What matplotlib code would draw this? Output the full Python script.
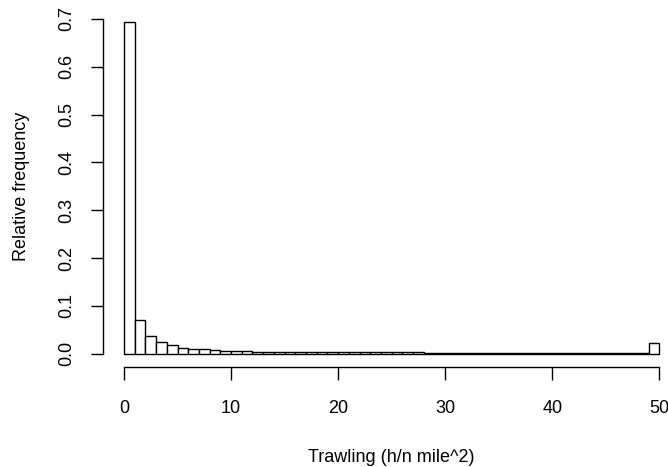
import numpy as np
import matplotlib.pyplot as plt

plt.rcParams['font.family'] = ['Liberation Sans', 'DejaVu Sans']

# histogram of trawling effort, bins of width 1 from 0 to 50
bin_left = list(range(50))
rel_freq = [0.693, 0.071, 0.038, 0.024, 0.019, 0.012, 0.010, 0.009, 0.007, 0.006,
            0.006, 0.006, 0.0035, 0.0034, 0.0033, 0.0032, 0.0032, 0.0031, 0.0031, 0.003,
            0.003, 0.003, 0.003, 0.003, 0.003, 0.003, 0.003, 0.003, 0.0008, 0.0008,
            0.0008, 0.0008, 0.0008, 0.0008, 0.0008, 0.0008, 0.0007, 0.0007, 0.0007, 0.0007,
            0.0007, 0.0007, 0.0007, 0.0007, 0.0007, 0.0007, 0.0007, 0.0007, 0.0007, 0.023]
xticks = [0, 10, 20, 30, 40, 50]
yticks = [0.0, 0.1, 0.2, 0.3, 0.4, 0.5, 0.6, 0.7]

W, H = 668, 467
fig = plt.figure(figsize=(W / 100, H / 100), dpi=100)
ax = fig.add_axes([102.6 / W, 1 - 367 / H, 578.1 / W, 357.9 / H])

ax.bar(bin_left, rel_freq, width=1, align='edge', facecolor='white',
       edgecolor='black', linewidth=1.0)

top = max(rel_freq)
ax.set_xlim(-2, 52)
ax.set_ylim(-0.04 * top, top * 1.04)

for s in ['top', 'right']:
    ax.spines[s].set_visible(False)
ax.spines['left'].set_bounds(0, 0.7)
ax.spines['bottom'].set_bounds(0, 50)
for s in ['left', 'bottom']:
    ax.spines[s].set_linewidth(1.0)

ax.set_xticks(xticks)
ax.set_xticklabels([str(t) for t in xticks])
ax.set_yticks(yticks)
ax.set_yticklabels(['%.1f' % t for t in yticks], rotation=90, va='center')
ax.tick_params(axis='both', direction='out', length=9, width=1.0, labelsize=13)
ax.tick_params(axis='x', pad=15)
ax.tick_params(axis='y', pad=11)

fig.text(391 / W, 1 - 458 / H, 'Trawling (h/n mile^2)', ha='center', va='center', fontsize=13)
fig.text(22 / W, 1 - 186 / H, 'Relative frequency', ha='center', va='center',
         rotation=90, fontsize=13)

fig.savefig('out.png', dpi=100)
